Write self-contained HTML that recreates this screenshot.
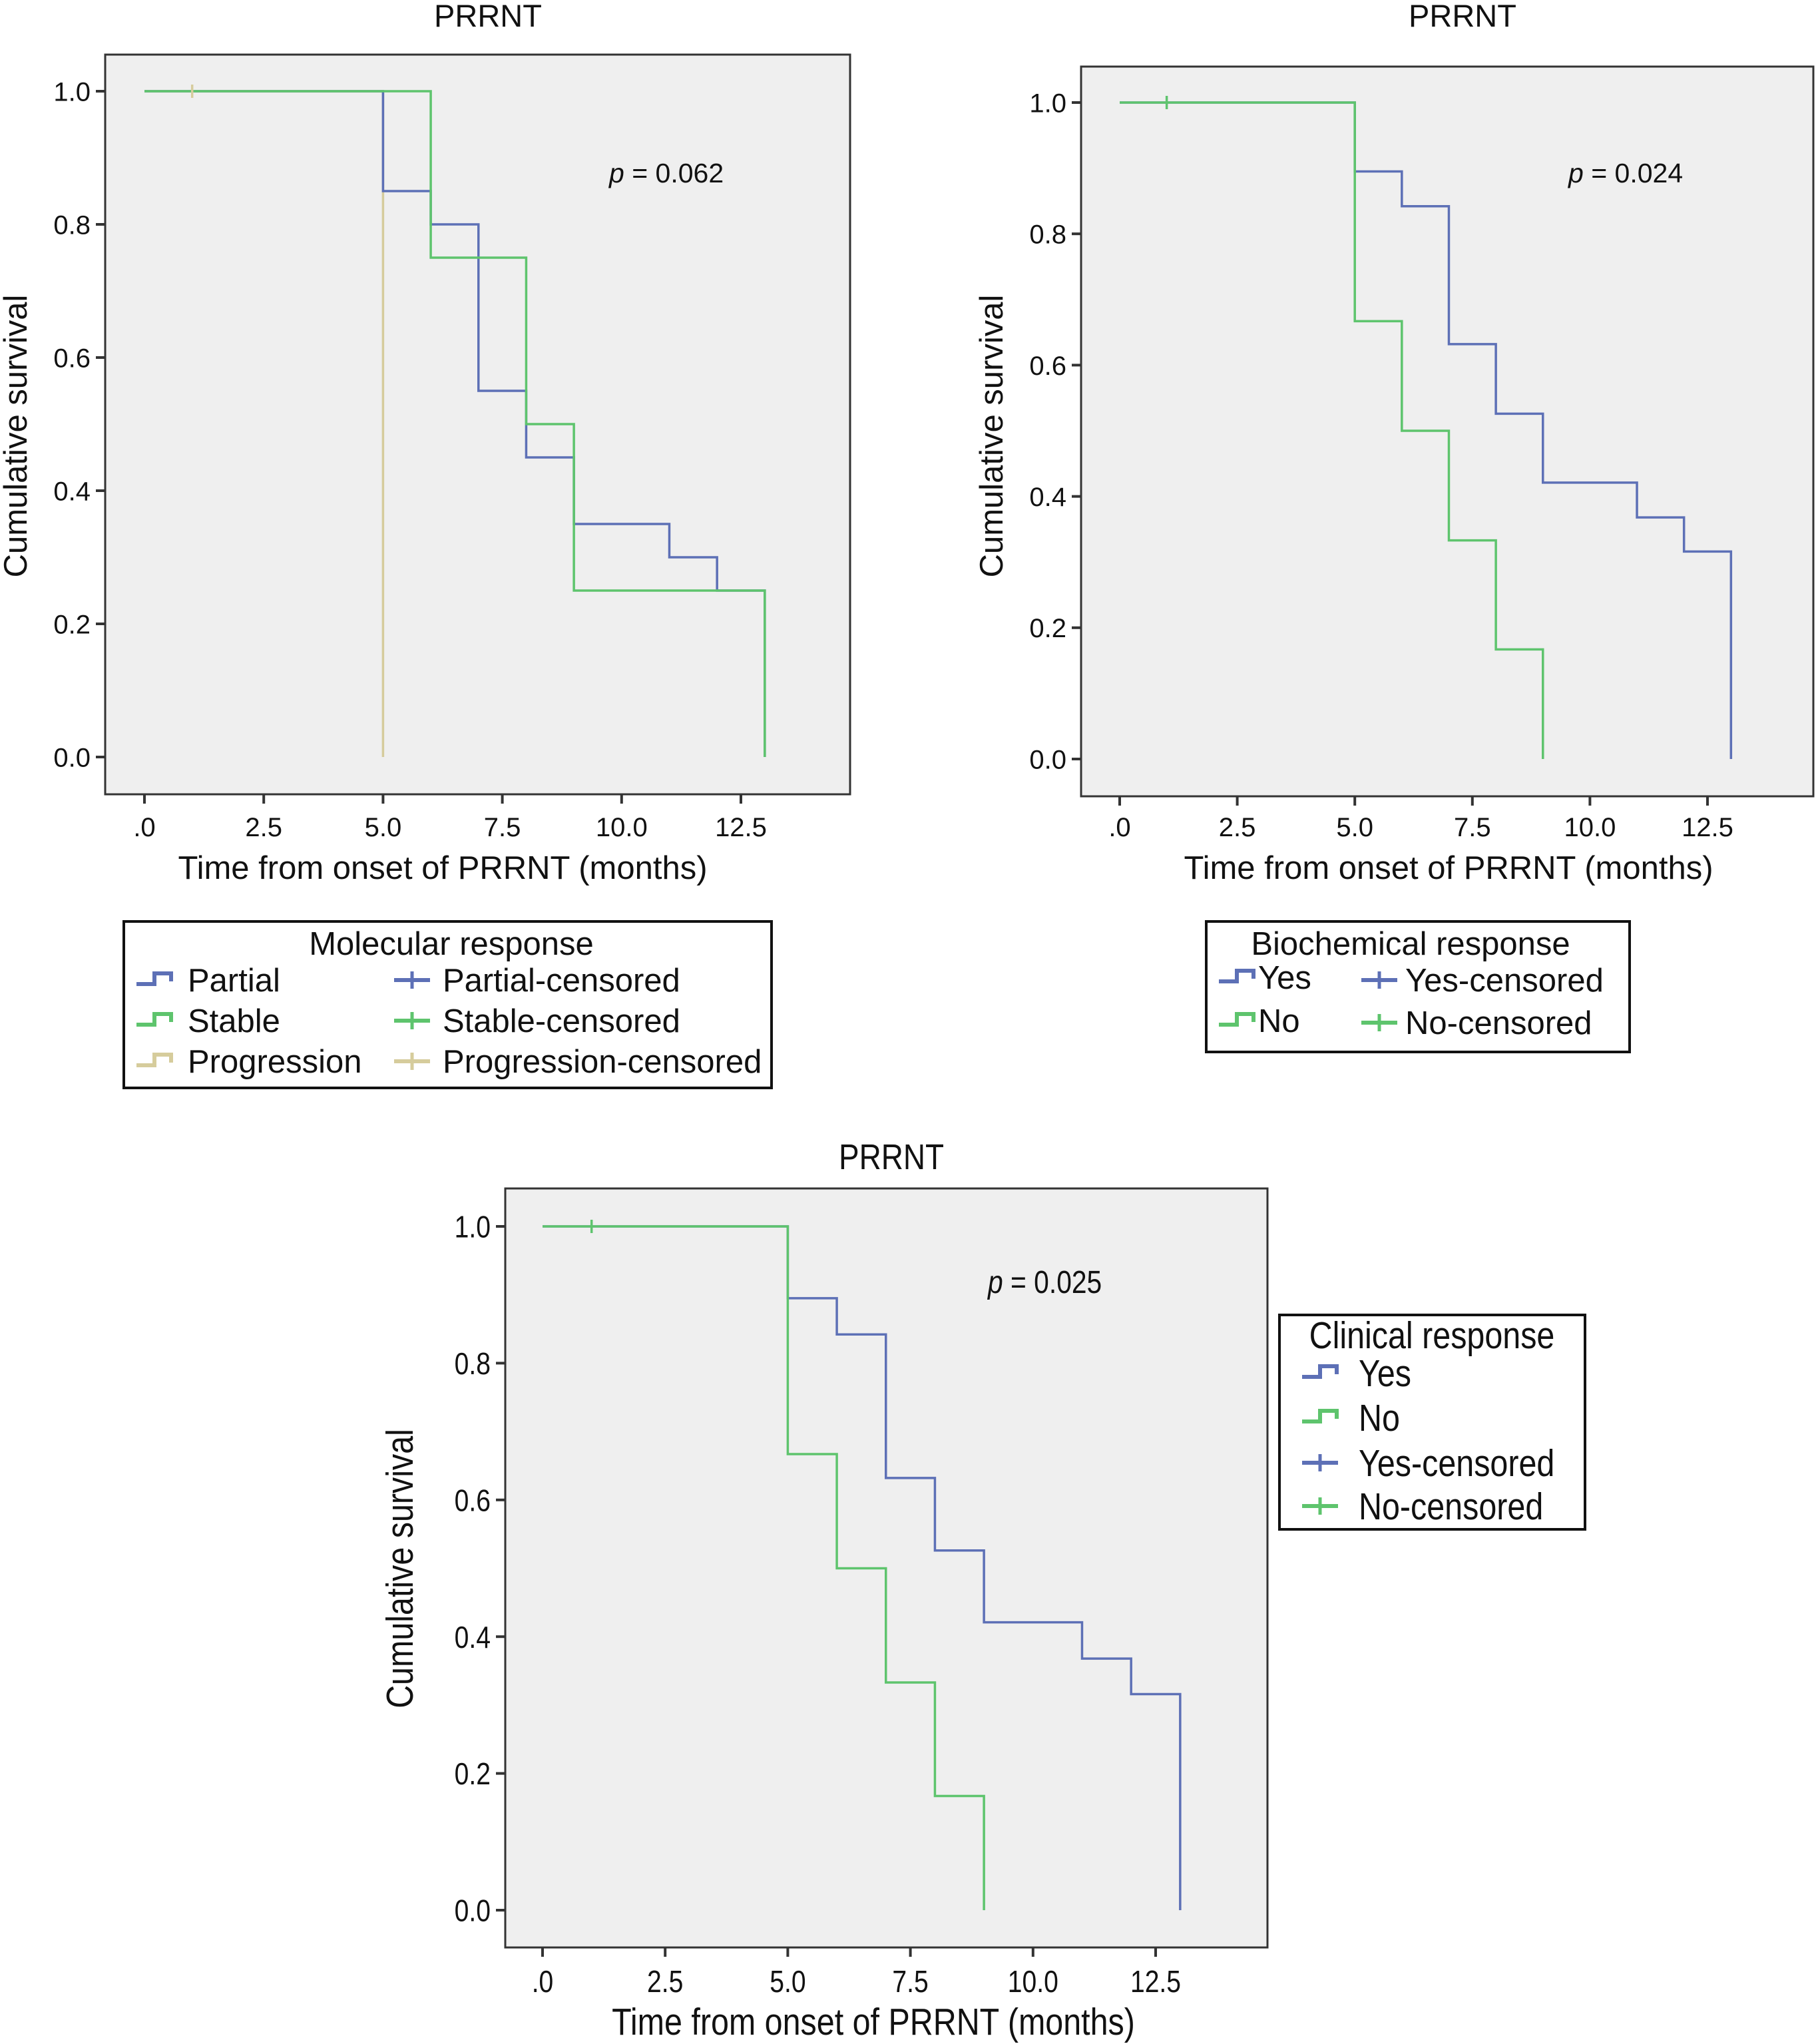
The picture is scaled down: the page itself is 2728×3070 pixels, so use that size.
<!DOCTYPE html>
<html><head><meta charset="utf-8"><style>
html,body{margin:0;padding:0;background:#fff;}
svg{display:block;font-family:"Liberation Sans",Arial,sans-serif;}
</style></head><body>
<svg id="root" width="2728" height="3070" viewBox="0 0 2728 3070" xmlns="http://www.w3.org/2000/svg"></svg>
<script>
const xTicks = [0, 2.5, 5, 7.5, 10, 12.5];
const xTickLabels = [".0", "2.5", "5.0", "7.5", "10.0", "12.5"];
const yTicks = [0, 0.2, 0.4, 0.6, 0.8, 1.0];
const yTickLabels = ["0.0", "0.2", "0.4", "0.6", "0.8", "1.0"];

// Chart 1: molecular response
const mol_partial_t = [0, 5, 6, 7, 8, 9, 11, 12, 13];
const mol_partial_s = [1, 0.85, 0.80, 0.55, 0.45, 0.35, 0.30, 0.25, 0];
const mol_stable_t = [0, 6, 8, 9, 13];
const mol_stable_s = [1, 0.75, 0.50, 0.25, 0];
const mol_prog_t = [0, 5];
const mol_prog_s = [1, 0];
const mol_prog_cens_t = [1];
const mol_prog_cens_s = [1];

// Chart 2: biochemical response
const bio_yes_t = [0, 5, 6, 7, 8, 9, 11, 12, 13];
const bio_yes_s = [1, 0.895, 0.842, 0.632, 0.526, 0.421, 0.368, 0.316, 0];
const bio_no_t = [0, 5, 6, 7, 8, 9];
const bio_no_s = [1, 0.667, 0.5, 0.333, 0.167, 0];
const bio_cens_t = [1];
const bio_cens_s = [1];

// Chart 3: clinical response
const cli_yes_t = [0, 5, 6, 7, 8, 9, 11, 12, 13];
const cli_yes_s = [1, 0.895, 0.842, 0.632, 0.526, 0.421, 0.368, 0.316, 0];
const cli_no_t = [0, 5, 6, 7, 8, 9];
const cli_no_s = [1, 0.667, 0.5, 0.333, 0.167, 0];
const cli_cens_t = [1];
const cli_cens_s = [1];

const BLUE = "#5d70b6", GREEN = "#5ec46d", TAN = "#d6cc9c";
const NS = "http://www.w3.org/2000/svg";
const root = document.getElementById("root");

function el(tag, attrs, parent, text) {
  const e = document.createElementNS(NS, tag);
  for (const k in attrs) e.setAttribute(k, attrs[k]);
  if (text !== undefined) e.textContent = text;
  (parent || root).appendChild(e);
  return e;
}

function drawChart(c) {
  const g = el("g", {});
  
  
  const sx = t => c.x0 + (c.x125 - c.x0) * t / 12.5;
  const sy = v => c.y0 + (c.y1 - c.y0) * v;
  const fr = el("rect", {x: c.fl, y: c.ft, width: c.fr - c.fl, height: c.fb - c.ft, fill: "#efefef", stroke: "#333", "stroke-width": 3}, g);
  
  
  const sc = c.sc;
  const F = c.fonts;
  const txt = (x, y, s, size, anchor, name, extra) => {
    const a = Object.assign({x: x / sc, y: y, "font-size": size, "text-anchor": anchor, fill: "#111"}, extra || {});
    if (sc !== 1) a.transform = "scale(" + sc + ",1)";
    const t = el("text", a, g, s);
    
    
    return t;
  };
  txt(c.titleX, c.titleY, "PRRNT", F.title, "middle", "chart-title");
  xTicks.forEach((v, i) => {
    const tk = el("line", {x1: sx(v), x2: sx(v), y1: c.fb, y2: c.fb + 14, stroke: "#333", "stroke-width": 4}, g);
    
    
    txt(sx(v), c.xLabY, xTickLabels[i], F.tick, "middle", "x-tick-label");
  });
  yTicks.forEach((v, i) => {
    const tk = el("line", {x1: c.fl - 14, x2: c.fl, y1: sy(v), y2: sy(v), stroke: "#333", "stroke-width": 4}, g);
    
    
    txt(c.fl - 22, sy(v) + F.tick * 0.36, yTickLabels[i], F.tick, "end", "y-tick-label");
  });
  txt(c.xTitleX, c.xTitleY, "Time from onset of PRRNT (months)", F.axis, "middle", "x-axis-title");
  const yt = el("text", {x: 0, y: 0, "font-size": F.axis, "text-anchor": "middle", fill: "#111",
    transform: "translate(" + c.yTitleX + "," + c.yTitleY + ") rotate(-90)" + (sc !== 1 ? " scale(" + sc + ",1)" : "")}, g, "Cumulative survival");
  
  
  const pt = txt(c.pX, c.pY, "", F.p, "start", "p-value");
  el("tspan", {"font-style": "italic"}, pt, "p");
  el("tspan", {}, pt, " = " + c.p);
  c.series.forEach(s => {
    let d = "M" + sx(s.t[0]) + "," + sy(s.s[0]);
    for (let i = 1; i < s.t.length; i++) d += " H" + sx(s.t[i]) + " V" + sy(s.s[i]);
    const p = el("path", {d: d, fill: "none", stroke: s.color, "stroke-width": 3.5}, g);
    
    
  });
  c.cens.forEach(s => {
    s.t.forEach((t, i) => {
      const m = el("line", {x1: sx(t), x2: sx(t), y1: sy(s.s[i]) - 10, y2: sy(s.s[i]) + 10, stroke: s.color, "stroke-width": 3.5}, g);
      
      
    });
  });
  const L = c.legend;
  const lb = el("rect", {x: L.x, y: L.y, width: L.w, height: L.h, fill: "#fff", stroke: "#111", "stroke-width": 4}, g);
  
  
  txt(L.titleX, L.titleY, L.title, F.legend, "middle", "legend-title");
  L.items.forEach(it => {
    const ig = el("g", {}, g);
    
    
    if (it.kind === "step") {
      el("path", {d: "M" + it.ix + "," + (it.y + 6) + " H" + (it.ix + 27) + " V" + (it.y - 10) + " H" + (it.ix + 52) + " V" + (it.y + 2),
        fill: "none", stroke: it.color, "stroke-width": 6}, ig);
    } else {
      el("line", {x1: it.ix, x2: it.ix + 54, y1: it.y, y2: it.y, stroke: it.color, "stroke-width": 6}, ig);
      el("line", {x1: it.ix + 27, x2: it.ix + 27, y1: it.y - 13, y2: it.y + 13, stroke: it.color, "stroke-width": 5}, ig);
    }
    const a = {x: it.tx / sc, y: it.y + F.legend * 0.35, "font-size": F.legend, fill: "#111"};
    if (sc !== 1) a.transform = "scale(" + sc + ",1)";
    el("text", a, ig, it.label);
  });
}

const bigFonts = {title: 47, tick: 40, axis: 49, p: 41, legend: 49};

drawChart({
  name: "molecular-response-chart", sc: 1, fonts: bigFonts, fl: 158, ft: 82, fr: 1277, fb: 1193,
  x0: 217, x125: 1113, y0: 1137, y1: 137,
  titleX: 733, titleY: 40, xLabY: 1256, xTitleX: 665, xTitleY: 1320, yTitleX: 40, yTitleY: 655,
  pX: 915, pY: 274, p: "0.062",
  series: [
    {name: "progression-curve", color: TAN, t: mol_prog_t, s: mol_prog_s},
    {name: "partial-curve", color: BLUE, t: mol_partial_t, s: mol_partial_s},
    {name: "stable-curve", color: GREEN, t: mol_stable_t, s: mol_stable_s}
  ],
  cens: [{name: "progression-censored-mark", color: TAN, t: mol_prog_cens_t, s: mol_prog_cens_s}],
  legend: {x: 186, y: 1384, w: 973, h: 250, title: "Molecular response", titleX: 678, titleY: 1434,
    items: [
      {kind: "step", color: BLUE, ix: 205, tx: 282, y: 1472, label: "Partial"},
      {kind: "step", color: GREEN, ix: 205, tx: 282, y: 1533, label: "Stable"},
      {kind: "step", color: TAN, ix: 205, tx: 282, y: 1594, label: "Progression"},
      {kind: "cens", color: BLUE, ix: 592, tx: 665, y: 1472, label: "Partial-censored"},
      {kind: "cens", color: GREEN, ix: 592, tx: 665, y: 1533, label: "Stable-censored"},
      {kind: "cens", color: TAN, ix: 592, tx: 665, y: 1594, label: "Progression-censored"}
    ]}
});

drawChart({
  name: "biochemical-response-chart", sc: 1, fonts: bigFonts, fl: 1624, ft: 100, fr: 2724, fb: 1196,
  x0: 1682, x125: 2565, y0: 1140, y1: 154,
  titleX: 2197, titleY: 40, xLabY: 1256, xTitleX: 2176, xTitleY: 1320, yTitleX: 1506, yTitleY: 655,
  pX: 2356, pY: 274, p: "0.024",
  series: [
    {name: "yes-curve", color: BLUE, t: bio_yes_t, s: bio_yes_s},
    {name: "no-curve", color: GREEN, t: bio_no_t, s: bio_no_s}
  ],
  cens: [{name: "no-censored-mark", color: GREEN, t: bio_cens_t, s: bio_cens_s}],
  legend: {x: 1812, y: 1384, w: 636, h: 196, title: "Biochemical response", titleX: 2119, titleY: 1434,
    items: [
      {kind: "step", color: BLUE, ix: 1831, tx: 1890, y: 1468, label: "Yes"},
      {kind: "step", color: GREEN, ix: 1831, tx: 1890, y: 1533, label: "No"},
      {kind: "cens", color: BLUE, ix: 2045, tx: 2111, y: 1472, label: "Yes-censored"},
      {kind: "cens", color: GREEN, ix: 2045, tx: 2111, y: 1536, label: "No-censored"}
    ]}
});

drawChart({
  name: "clinical-response-chart", sc: 0.85, fonts: {title: 54, tick: 46, axis: 57, p: 48, legend: 57},
  fl: 759, ft: 1785, fr: 1904, fb: 2925,
  x0: 815, x125: 1736, y0: 2869, y1: 1842,
  titleX: 1339, titleY: 1756, xLabY: 2992, xTitleX: 1312, xTitleY: 3056, yTitleX: 620, yTitleY: 2356,
  pX: 1484, pY: 1942, p: "0.025",
  series: [
    {name: "yes-curve", color: BLUE, t: cli_yes_t, s: cli_yes_s},
    {name: "no-curve", color: GREEN, t: cli_no_t, s: cli_no_s}
  ],
  cens: [{name: "no-censored-mark", color: GREEN, t: cli_cens_t, s: cli_cens_s}],
  legend: {x: 1922, y: 1975, w: 459, h: 322, title: "Clinical response", titleX: 2151, titleY: 2025,
    items: [
      {kind: "step", color: BLUE, ix: 1956, tx: 2041, y: 2062, label: "Yes"},
      {kind: "step", color: GREEN, ix: 1956, tx: 2041, y: 2129, label: "No"},
      {kind: "cens", color: BLUE, ix: 1956, tx: 2041, y: 2197, label: "Yes-censored"},
      {kind: "cens", color: GREEN, ix: 1956, tx: 2041, y: 2262, label: "No-censored"}
    ]}
});
</script>
</body></html>
